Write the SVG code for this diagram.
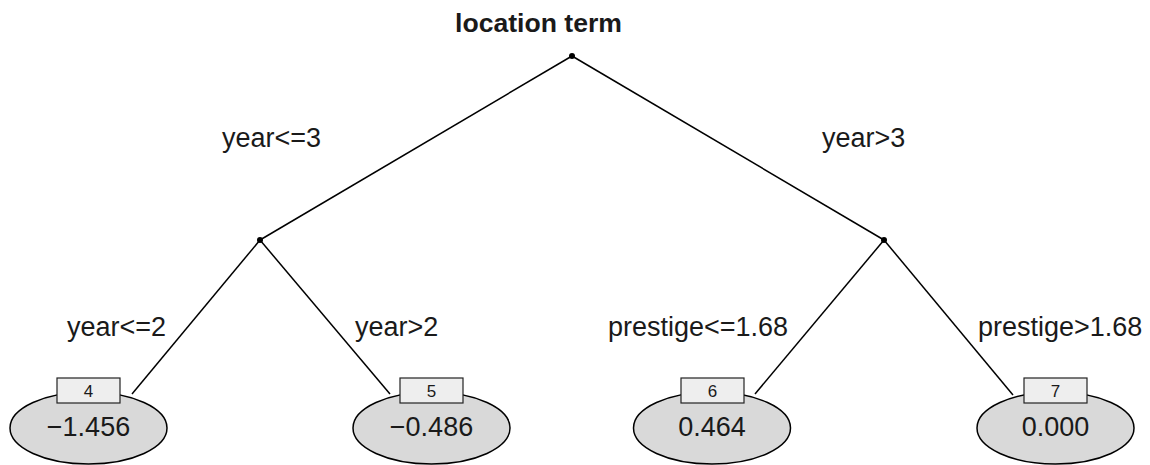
<svg xmlns="http://www.w3.org/2000/svg" width="1150" height="465" viewBox="0 0 1150 465">
<style>
text{font-family:"Liberation Sans",Arial,sans-serif;fill:#1a1a1a}
.lab{font-size:27px}
.title{font-size:26.6px;font-weight:bold;text-anchor:middle}
.val{font-size:27px;text-anchor:middle}
.num{font-size:17px;text-anchor:middle}
.edge{stroke:#000;stroke-width:1.5;fill:none}
.leaf{fill:#d9d9d9;stroke:#000;stroke-width:1.5}
.box{fill:#eeeeee;stroke:#222;stroke-width:1.2}
.dot{fill:#000}
</style>
<rect width="1150" height="465" fill="#fff"/>
<g id="connectors">
<line class="edge" x1="572" y1="56" x2="260" y2="240"/>
<line class="edge" x1="572" y1="56" x2="884" y2="240"/>
<line class="edge" x1="260" y1="240" x2="132" y2="394"/>
<line class="edge" x1="260" y1="240" x2="390" y2="394"/>
<line class="edge" x1="884" y1="240" x2="755" y2="394"/>
<line class="edge" x1="884" y1="240" x2="1013" y2="395"/>
</g>
<g id="node1">
<text class="title" x="538.5" y="32">location term</text>
<circle class="dot" cx="572" cy="56" r="3"/>
</g>
<g id="node2">
<circle class="dot" cx="260" cy="240" r="3"/>
</g>
<g id="node3">
<circle class="dot" cx="884" cy="240" r="3"/>
</g>
<g id="edge-labels">
<text class="lab" x="222" y="147">year&lt;=3</text>
<text class="lab" x="822" y="147">year&gt;3</text>
<text class="lab" x="67" y="336">year&lt;=2</text>
<text class="lab" x="355" y="336">year&gt;2</text>
<text class="lab" x="608" y="336">prestige&lt;=1.68</text>
<text class="lab" x="978" y="336">prestige&gt;1.68</text>
</g>
<g id="node4">
<ellipse class="leaf" cx="88.5" cy="428" rx="78.5" ry="36"/>
<rect class="box" x="57" y="378" width="63" height="25"/>
<text class="num" x="88.5" y="397">4</text>
<text class="val" x="88.5" y="436">−1.456</text>
</g>
<g id="node5">
<ellipse class="leaf" cx="431.5" cy="428" rx="78.5" ry="36"/>
<rect class="box" x="400" y="378" width="63" height="25"/>
<text class="num" x="431.5" y="397">5</text>
<text class="val" x="431.5" y="436">−0.486</text>
</g>
<g id="node6">
<ellipse class="leaf" cx="712" cy="428" rx="78.5" ry="36"/>
<rect class="box" x="681" y="378" width="63" height="25"/>
<text class="num" x="712.5" y="397">6</text>
<text class="val" x="712" y="436">0.464</text>
</g>
<g id="node7">
<ellipse class="leaf" cx="1055.5" cy="428" rx="78.5" ry="36"/>
<rect class="box" x="1024" y="378" width="63" height="25"/>
<text class="num" x="1055.5" y="397">7</text>
<text class="val" x="1055.5" y="436">0.000</text>
</g>
</svg>
